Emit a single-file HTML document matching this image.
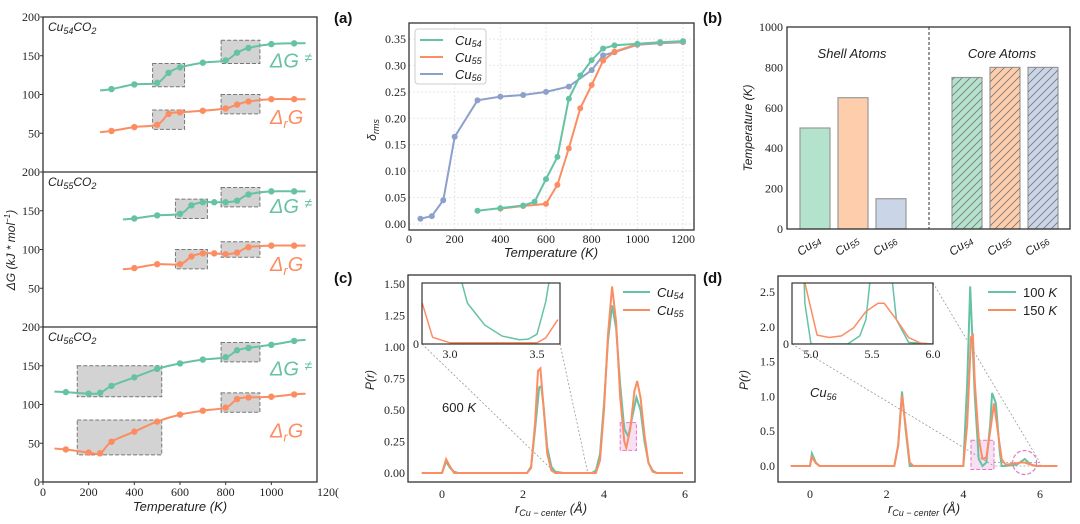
<!DOCTYPE html>
<html><head><meta charset="utf-8">
<style>
html,body{margin:0;padding:0;background:#fff;}
svg{display:block;}
.tk{font-family:"Liberation Serif",serif;font-size:12px;fill:#222;}
.lb{font-family:"Liberation Sans",sans-serif;font-size:12px;font-style:italic;fill:#222;}
.pl{font-family:"Liberation Sans",sans-serif;font-size:15px;font-weight:bold;fill:#111;}
</style></head>
<body>
<svg id="fig" width="1080" height="524" viewBox="0 0 1080 524" xmlns="http://www.w3.org/2000/svg"></svg>
<script>
// ---------- DATA ----------
const l1T_g=[300,400,500,550,600,700,800,850,900,1000,1100];
const l1V_g=[107,113,115,128,135,141,144,154,160,165,166];
const l1T_o=[300,400,500,550,600,700,800,850,900,1000,1100];
const l1V_o=[53,58,61,75,77,79,82,87,91,94,94];
const l2T_g=[400,500,600,650,700,750,800,850,900,1000,1100];
const l2V_g=[140,144,146,157,161,161,161,163,171,175,175];
const l2T_o=[400,500,600,650,700,750,800,850,900,1000,1100];
const l2V_o=[76,81,81,91,95,95,94,96,103,105,105];
const l3T_g=[100,200,250,300,400,500,600,700,800,850,900,1000,1100];
const l3V_g=[116,114,115,124,135,146,153,158,161,170,173,177,182];
const l3T_o=[100,200,250,300,400,500,600,700,800,850,900,1000,1100];
const l3V_o=[42,38,37,52,65,78,87,92,96,107,109,110,113];
const aT54=[300,400,500,550,600,650,700,750,800,850,900,1000,1100,1200];
const aV54=[.025,.030,.035,.042,.085,.127,.237,.281,.310,.332,.338,.341,.344,.346];
const aT55=[400,500,600,650,700,750,800,850,900,1000,1100,1200];
const aV55=[.029,.034,.038,.074,.143,.219,.263,.309,.326,.340,.343,.345];
const aT56=[50,100,150,200,300,400,500,600,700,800,850,900,1000,1100,1200];
const aV56=[.010,.015,.045,.165,.234,.241,.244,.250,.260,.291,.319,.325,.339,.342,.344];
const bCats=["54","55","56"];
const bShell=[500,650,150];
const bCore=[750,800,800];
const cX54=[-0.5,0,0.1,0.2,0.3,0.4,2.1,2.2,2.3,2.4,2.45,2.5,2.6,2.7,2.8,3.0,3.7,3.8,3.9,4.0,4.1,4.2,4.3,4.4,4.5,4.6,4.7,4.8,4.9,5.0,5.1,5.2,5.3,5.95];
const cY54=[0,0,0.09,0.04,0.01,0,0,0.05,0.35,0.68,0.69,0.55,0.2,0.05,0.01,0,0,0.02,0.15,0.55,1.05,1.33,1.15,0.7,0.35,0.29,0.45,0.6,0.5,0.25,0.08,0.02,0,0];
const cX55=[-0.5,0,0.1,0.2,0.3,2.1,2.2,2.3,2.37,2.43,2.5,2.6,2.7,2.8,3.8,3.9,4.0,4.1,4.2,4.3,4.4,4.5,4.55,4.65,4.75,4.82,4.9,5.0,5.1,5.2,5.3,5.95];
const cY55=[0,0,0.11,0.05,0,0,0.04,0.4,0.81,0.83,0.55,0.15,0.02,0,0,0.1,0.5,1.1,1.48,1.2,0.6,0.25,0.2,0.35,0.65,0.73,0.6,0.3,0.08,0.01,0,0];
const ciX54=[3.05,3.1,3.2,3.3,3.4,3.45,3.5,3.55,3.58];
const ciY54=[0.012,0.0067,0.0031,0.0013,0.0007,0.0008,0.0016,0.0069,0.012];
const ciX55=[2.84,2.9,3.0,3.5,3.55,3.62];
const ciY55=[0.0067,0.0011,0.0002,0.0002,0.001,0.004];
const dX100=[-0.5,0,0.05,0.15,0.25,2.2,2.3,2.4,2.5,2.6,4.0,4.1,4.18,4.3,4.4,4.5,4.6,4.7,4.75,4.85,4.95,5.0,5.1,5.4,5.5,5.6,5.7,5.8,5.9,6.45];
const dY100=[0,0,0.18,0.05,0,0,0.3,1.07,0.5,0,0,1.2,2.58,1.0,0.1,0,0.05,0.6,1.05,0.9,0.2,0,0,0.02,0.06,0.1,0.05,0.01,0,0];
const dX150=[-0.5,0,0.05,0.15,0.25,2.2,2.3,2.4,2.5,2.6,2.7,4.0,4.1,4.2,4.25,4.3,4.4,4.5,4.6,4.7,4.8,4.9,5.0,5.1,5.3,5.5,5.6,5.7,5.9,6.45];
const dY150=[0,0,0.13,0.04,0,0,0.3,1.02,0.55,0.05,0,0,0.6,1.85,1.88,1.2,0.4,0.1,0.12,0.5,0.9,0.5,0.1,0.02,0.03,0.05,0.05,0.03,0,0];
const diX100=[4.85,4.95,5.0,5.3,5.4,5.45,5.5,5.65,5.7,5.8,6.0];
const diY100=[0.5,0.05,0,0,0.01,0.03,0.1,0.1,0.03,0.002,0];
const diX150=[4.9,4.95,5.05,5.15,5.25,5.35,5.45,5.55,5.6,5.7,5.8,5.9,6.0];
const diY150=[0.2,0.075,0.011,0.008,0.01,0.02,0.04,0.05,0.05,0.03,0.008,0.001,0];

// ---------- HELPERS ----------
const G="#66c2a5",O="#fc8d62",B="#8da0cb";
const svg=document.getElementById('fig');
const NS="http://www.w3.org/2000/svg";
function mk(tag,attrs,parent){const e=document.createElementNS(NS,tag);for(const k in attrs)e.setAttribute(k,attrs[k]);(parent||svg).appendChild(e);return e;}
function txt(x,y,s,cls,anchor,parent){const e=mk('text',{x:x,y:y,class:cls,'text-anchor':anchor||'start'},parent);e.innerHTML=s;return e;}
function lin(a0,a1,p0,p1){return v=>p0+(v-a0)/(a1-a0)*(p1-p0);}
let clipN=0;
function clip(x,y,w,h){const id='c'+(clipN++);const cp=mk('clipPath',{id:id});mk('rect',{x:x,y:y,width:w,height:h},cp);return 'url(#'+id+')';}
function polyD(xs,ys,sx,sy){return xs.map((v,i)=>(i?'L':'M')+sx(v).toFixed(1)+','+sy(ys[i]).toFixed(1)).join('');}
function smoothD(P){let d='M'+P[0][0]+','+P[0][1];for(let i=0;i<P.length-1;i++){const p0=P[i-1]||P[i],p1=P[i],p2=P[i+1],p3=P[i+2]||P[i+1];
const c1=[p1[0]+(p2[0]-p0[0])/6,p1[1]+(p2[1]-p0[1])/6],c2=[p2[0]-(p3[0]-p1[0])/6,p2[1]-(p3[1]-p1[1])/6];
d+='C'+c1[0].toFixed(1)+','+c1[1].toFixed(1)+' '+c2[0].toFixed(1)+','+c2[1].toFixed(1)+' '+p2[0].toFixed(1)+','+p2[1].toFixed(1);}return d;}

// ---------- LEFT PANEL ----------
const LX=lin(0,1200,43,317);
const subs=[{top:17,tg:l1T_g,vg:l1V_g,to:l1T_o,vo:l1V_o,t0:250,name:"Cu<tspan font-size='9' dy='3'>54</tspan><tspan dy='-3'>CO</tspan><tspan font-size='9' dy='3'>2</tspan>",
 gb:[[480,620,110,140],[780,950,140,170]],ob:[[480,620,55,80],[780,950,75,100]]},
 {top:172,tg:l2T_g,vg:l2V_g,to:l2T_o,vo:l2V_o,t0:350,name:"Cu<tspan font-size='9' dy='3'>55</tspan><tspan dy='-3'>CO</tspan><tspan font-size='9' dy='3'>2</tspan>",
 gb:[[580,720,140,165],[780,950,155,180]],ob:[[580,720,75,100],[780,950,90,110]]},
 {top:327,tg:l3T_g,vg:l3V_g,to:l3T_o,vo:l3V_o,t0:50,name:"Cu<tspan font-size='9' dy='3'>56</tspan><tspan dy='-3'>CO</tspan><tspan font-size='9' dy='3'>2</tspan>",
 gb:[[150,520,110,150],[780,950,155,180]],ob:[[150,520,35,80],[780,950,90,115]]}];
subs.forEach((s,k)=>{
 const g=mk('g',{});
 
 
 const Y=lin(0,200,s.top+155,s.top);
 s.gb.concat(s.ob).forEach(b=>{const r=mk('rect',{x:LX(b[0]),y:Y(b[3]),width:LX(b[1])-LX(b[0]),height:Y(b[2])-Y(b[3]),fill:'#d3d3d3',stroke:'#777','stroke-dasharray':'4,2','stroke-width':1},g);
  });
 [[s.tg,s.vg,G,'dg-ts'],[s.to,s.vo,O,'dg-r']].forEach(([T,V,c,nm])=>{
  const P=T.map((t,i)=>[LX(t),Y(V[i])]);
  const ext0=[LX(s.t0),Y(V[0]-(V[1]-V[0])*(T[0]-s.t0)/(T[1]-T[0])*0.6)];
  const n=T.length;const ext1=[LX(1150),Y(V[n-1]+(V[n-1]-V[n-2])*0.3)];
  const p=mk('path',{d:smoothD([ext0].concat(P,[ext1])),fill:'none',stroke:c,'stroke-width':2},g);
  
  T.forEach((t,i)=>{const m=mk('circle',{cx:LX(t),cy:Y(V[i]),r:3.2,fill:c},g);
   });
 });
 [200,150,100,50].concat(k==2?[0]:[]).forEach(v=>{txt(40,Y(v)+4,v,'tk','end',g);mk('line',{x1:40,x2:43,y1:Y(v),y2:Y(v),stroke:'#333'},g);});
 txt(48,s.top+14,s.name,'lb','start',g);
 const a=txt(270,Y(k==1?150:140)+(k==0?4:2),"ΔG <tspan font-size='14' dy='-5'>≠</tspan>",'lb','start',g);a.setAttribute('style','font-size:20px;fill:'+G);
 const b=txt(270,Y(k==2?65:(k==1?80:70))+6,"Δ<tspan font-size='13' dy='4'>r</tspan><tspan dy='-4'>G</tspan>",'lb','start',g);b.setAttribute('style','font-size:20px;fill:'+O);
});
mk('rect',{x:43,y:17,width:274,height:465,fill:'none',stroke:'#333','stroke-width':1.3});
mk('line',{x1:43,x2:317,y1:172,y2:172,stroke:'#333','stroke-width':1.3});
mk('line',{x1:43,x2:317,y1:327,y2:327,stroke:'#333','stroke-width':1.3});
[0,200,400,600,800,1000].forEach(v=>{txt(LX(v),496,v,'tk','middle');mk('line',{x1:LX(v),x2:LX(v),y1:482,y2:485,stroke:'#333'});});
txt(317,496,'120(','tk','start');
txt(180,511,'Temperature (K)','lb','middle').setAttribute('style','font-size:13px');
txt(0,0,"ΔG (kJ * mol<tspan font-size='8' dy='-5'>−1</tspan><tspan dy='5'>)</tspan>",'lb','middle').setAttribute('transform','translate(15,250) rotate(-90)');

// ---------- PANEL A ----------
txt(334,23,'(a)','pl');
const AX=lin(0,1200,409,683),AY=lin(0,0.35,224,39);
[0,200,400,600,800,1000,1200].forEach(v=>{mk('line',{x1:AX(v),x2:AX(v),y1:23,y2:230,stroke:'#e6e6e6','stroke-dasharray':'2,2'});txt(AX(v),243,v,'tk','middle');});
[0,.05,.1,.15,.2,.25,.3,.35].forEach(v=>{mk('line',{x1:409,x2:694,y1:AY(v),y2:AY(v),stroke:'#e6e6e6','stroke-dasharray':'2,2'});txt(406,AY(v)+4,v.toFixed(2),'tk','end');});
[[aT56,aV56,B,'cu56'],[aT55,aV55,O,'cu55'],[aT54,aV54,G,'cu54']].forEach(([T,V,c,n])=>{
 const p=mk('path',{d:polyD(T,V,AX,AY),fill:'none',stroke:c,'stroke-width':2});
 
 T.forEach((t,i)=>{const m=mk('circle',{cx:AX(t),cy:AY(V[i]),r:3,fill:c});});
});
mk('rect',{x:409,y:23,width:285,height:207,fill:'none',stroke:'#333','stroke-width':1.3});
const lgA=mk('g',{});
mk('rect',{x:415,y:29,width:71,height:55,rx:3,fill:'#fff',stroke:'#ccc'},lgA);
[[G,'54'],[O,'55'],[B,'56']].forEach(([c,s],i)=>{const y=40+i*17;mk('line',{x1:420,x2:443,y1:y,y2:y,stroke:c,'stroke-width':2},lgA);
 txt(455,y+5,"Cu<tspan font-size='9' dy='2'>"+s+"</tspan>",'lb','start',lgA).setAttribute('style','font-size:13px');});
txt(551,257,'Temperature (K)','lb','middle').setAttribute('style','font-size:13px');
txt(0,0,"δ<tspan font-size='9' dy='3'>rms</tspan>",'lb','middle').setAttribute('transform','translate(376,130) rotate(-90)');

// ---------- PANEL B ----------
txt(703,23,'(b)','pl');
const BY=lin(0,1000,229,27);
const shellX=[815,853,891],coreX=[967,1005,1043];
const fills=['#b3e2cd','#fdcdac','#cbd5e8'];
const defs=mk('defs',{});
const pat=mk('pattern',{id:'hatch',width:8,height:8,patternUnits:'userSpaceOnUse'},defs);
mk('path',{d:'M0,8 L8,0 M-2,2 L2,-2 M6,10 L10,6',stroke:'#777','stroke-width':0.8},pat);
bShell.forEach((v,i)=>{const r=mk('rect',{x:shellX[i]-15,y:BY(v),width:30,height:BY(0)-BY(v),fill:fills[i],stroke:'#999','stroke-width':1.2});
 });
bCore.forEach((v,i)=>{const r=mk('rect',{x:coreX[i]-15,y:BY(v),width:30,height:BY(0)-BY(v),fill:fills[i],stroke:'#999','stroke-width':1.2});
 
 mk('rect',{x:coreX[i]-15,y:BY(v),width:30,height:BY(0)-BY(v),fill:'url(#hatch)'});});
mk('line',{x1:929,x2:929,y1:27,y2:229,stroke:'#555','stroke-dasharray':'3,2','stroke-width':1.2});
mk('rect',{x:787,y:27,width:283,height:202,fill:'none',stroke:'#333','stroke-width':1.3});
[0,200,400,600,800,1000].forEach(v=>{txt(783,BY(v)+4,v,'tk','end');});
shellX.concat(coreX).forEach((x,i)=>{txt(0,0,"Cu<tspan font-size='9' dy='2'>"+bCats[i%3]+"</tspan>",'lb','middle').setAttribute('transform','translate('+(x-4)+',249) rotate(-35)');});
txt(852,58,'Shell Atoms','lb','middle').setAttribute('style','font-size:13px');
txt(1002,58,'Core Atoms','lb','middle').setAttribute('style','font-size:13px');
txt(0,0,'Temperature (K)','lb','middle').setAttribute('transform','translate(752,128) rotate(-90)');

// ---------- PANEL C ----------
txt(334,283,'(c)','pl');
const CX=lin(0,6,442,685),CY=lin(0,1.5,473,284);
[0,.25,.5,.75,1,1.25,1.5].forEach(v=>{txt(405,CY(v)+4,v.toFixed(2),'tk','end');});
[0,2,4,6].forEach(v=>txt(CX(v),498,v,'tk','middle'));
mk('rect',{x:CX(4.4),y:CY(0.4),width:CX(4.8)-CX(4.4),height:CY(0.18)-CY(0.4),fill:'#f8e0f4',stroke:'#e377c2','stroke-dasharray':'4,2'});
mk('line',{x1:422,y1:344,x2:CX(2.8),y2:CY(0),stroke:'#999','stroke-dasharray':'2,2','stroke-width':0.8});
mk('line',{x1:560,y1:344,x2:CX(3.6),y2:CY(0),stroke:'#999','stroke-dasharray':'2,2','stroke-width':0.8});
[[cX54,cY54,G,'cu54'],[cX55,cY55,O,'cu55']].forEach(([X,Y,c,n])=>{const p=mk('path',{d:polyD(X,Y,CX,CY),fill:'none',stroke:c,'stroke-width':2});
 });
mk('rect',{x:408,y:275,width:287,height:207,fill:'none',stroke:'#333','stroke-width':1.3});
const ciX=lin(3.0,3.5,450,537),ciY=lin(0,0.01,344,283);
mk('rect',{x:422,y:283,width:138,height:61,fill:'#fff'});
const clc=clip(422,283,138,61);
[[ciX54,ciY54,G],[ciX55,ciY55,O]].forEach(([X,Y,c])=>{const p=mk('path',{d:polyD(X,Y,ciX,ciY),fill:'none',stroke:c,'stroke-width':1.5,'clip-path':clc});
 });
mk('rect',{x:422,y:283,width:138,height:61,fill:'none',stroke:'#333','stroke-width':1.2});
txt(419,348,'0','tk','end');txt(ciX(3.0),358,'3.0','tk','middle');txt(ciX(3.5),358,'3.5','tk','middle');
const lgC=mk('g',{});
[[G,'54'],[O,'55']].forEach(([c,s],i)=>{const y=292+i*18;mk('line',{x1:623,x2:650,y1:y,y2:y,stroke:c,'stroke-width':2},lgC);
 txt(657,y+5,"Cu<tspan font-size='9' dy='2'>"+s+"</tspan>",'lb','start',lgC).setAttribute('style','font-size:13px');});
txt(442,412,'600 <tspan font-style="italic">K</tspan>','lb','start').setAttribute('style','font-size:13px;font-style:normal');
txt(551,513,"r<tspan font-size='9' dy='3'>Cu − center</tspan><tspan dy='-3'> (Å)</tspan>",'lb','middle').setAttribute('style','font-size:13px');
txt(0,0,'P(r)','lb','middle').setAttribute('transform','translate(374,380) rotate(-90)');

// ---------- PANEL D ----------
txt(703,283,'(d)','pl');
const DX=lin(0,6,810,1040),DY=lin(0,2.5,466,292);
[0,.5,1,1.5,2,2.5].forEach(v=>txt(775,DY(v)+4,v.toFixed(1),'tk','end'));
[0,2,4,6].forEach(v=>txt(DX(v),498,v,'tk','middle'));
mk('rect',{x:DX(4.2),y:DY(0.37),width:DX(4.8)-DX(4.2),height:DY(-0.05)-DY(0.37),fill:'#f8e0f4',stroke:'#e377c2','stroke-dasharray':'4,2'});
mk('rect',{x:DX(4.8),y:DY(0.05),width:DX(6)-DX(4.8),height:DY(0)-DY(0.05),fill:'none',stroke:'#999','stroke-dasharray':'2,2','stroke-width':0.8});
mk('line',{x1:792,y1:344,x2:DX(4.8),y2:DY(0),stroke:'#999','stroke-dasharray':'2,2','stroke-width':0.8});
mk('line',{x1:933,y1:283,x2:DX(6),y2:DY(0.05),stroke:'#999','stroke-dasharray':'2,2','stroke-width':0.8});
[[dX100,dY100,G,'100k'],[dX150,dY150,O,'150k']].forEach(([X,Y,c,n])=>{const p=mk('path',{d:polyD(X,Y,DX,DY),fill:'none',stroke:c,'stroke-width':2});
 });
mk('circle',{cx:DX(5.6),cy:DY(0.05),r:12,fill:'none',stroke:'#e377c2','stroke-dasharray':'4,2','stroke-width':1.2});
mk('rect',{x:778,y:276,width:293,height:206,fill:'none',stroke:'#333','stroke-width':1.3});
const diX=lin(5.0,6.0,811,933),diY=lin(0,0.075,344,283);
mk('rect',{x:792,y:283,width:141,height:61,fill:'#fff'});
const cld=clip(792,283,141,61);
[[diX100,diY100,G],[diX150,diY150,O]].forEach(([X,Y,c])=>{const p=mk('path',{d:polyD(X,Y,diX,diY),fill:'none',stroke:c,'stroke-width':1.5,'clip-path':cld});
 });
mk('rect',{x:792,y:283,width:141,height:61,fill:'none',stroke:'#333','stroke-width':1.2});
txt(789,348,'0','tk','end');[5.0,5.5,6.0].forEach(v=>txt(diX(v),358,v.toFixed(1),'tk','middle'));
const lgD=mk('g',{});
[[G,'100'],[O,'150']].forEach(([c,s],i)=>{const y=292+i*18;mk('line',{x1:988,x2:1016,y1:y,y2:y,stroke:c,'stroke-width':2},lgD);
 txt(1023,y+5,s+' <tspan font-style="italic">K</tspan>','lb','start',lgD).setAttribute('style','font-size:13px;font-style:normal');});
txt(810,397,"Cu<tspan font-size='9' dy='3'>56</tspan>",'lb','start').setAttribute('style','font-size:13px');
txt(924,513,"r<tspan font-size='9' dy='3'>Cu − center</tspan><tspan dy='-3'> (Å)</tspan>",'lb','middle').setAttribute('style','font-size:13px');
txt(0,0,'P(r)','lb','middle').setAttribute('transform','translate(748,380) rotate(-90)');
</script>
</body></html>
